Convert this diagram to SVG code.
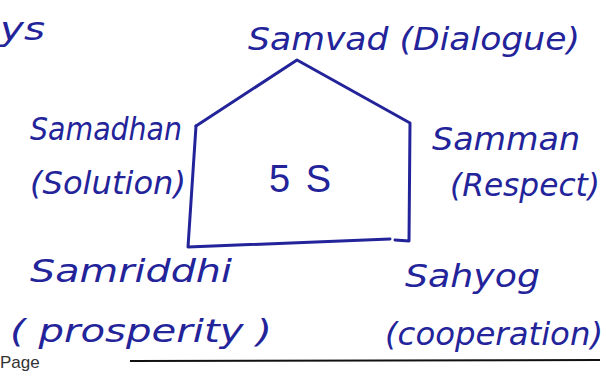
<svg xmlns="http://www.w3.org/2000/svg" width="606" height="376" viewBox="0 0 606 376">
<style>
.h{font-family:"DejaVu Sans","Liberation Sans",sans-serif;font-style:italic;fill:#23239a;font-size:32px}
.ln{fill:none;stroke:#23239a;stroke-width:3;stroke-linejoin:round;stroke-linecap:round}
</style>
<rect width="606" height="376" fill="#ffffff"/>
<g id="connectors">
<path class="ln" d="M196,126 L297,60 L410,123 L409,241 L395,240"/>
<path class="ln" d="M390,239 L188,247 L196,126"/>
<path d="M130,361 L600,360" stroke="#111" stroke-width="2" fill="none"/>
</g>
<g id="hdr"><text class="h" x="0" y="40" textLength="45" lengthAdjust="spacingAndGlyphs">ys</text></g>
<g id="center"><text x="300" y="192" text-anchor="middle" font-family="Liberation Sans,sans-serif" font-size="38" fill="#23239a" textLength="62" lengthAdjust="spacing">5 S</text></g>
<g id="samvad"><text class="h" x="248" y="50" textLength="332" lengthAdjust="spacingAndGlyphs">Samvad (Dialogue)</text></g>
<g id="samadhan">
<text class="h" x="30" y="140" textLength="152" lengthAdjust="spacingAndGlyphs">Samadhan</text>
<text class="h" x="30" y="194" textLength="156" lengthAdjust="spacingAndGlyphs">(Solution)</text>
</g>
<g id="samman">
<text class="h" x="432" y="150" textLength="148" lengthAdjust="spacingAndGlyphs">Samman</text>
<text class="h" x="450" y="196" textLength="150" lengthAdjust="spacingAndGlyphs">(Respect)</text>
</g>
<g id="samriddhi">
<text class="h" x="30" y="282" textLength="202" lengthAdjust="spacingAndGlyphs">Samriddhi</text>
<text class="h" x="10" y="342" textLength="262" lengthAdjust="spacingAndGlyphs">( prosperity )</text>
</g>
<g id="sahyog">
<text class="h" x="405" y="287" textLength="135" lengthAdjust="spacingAndGlyphs">Sahyog</text>
<text class="h" x="385" y="345" textLength="218" lengthAdjust="spacingAndGlyphs">(cooperation)</text>
</g>
<g id="page"><text x="0" y="368" font-family="Liberation Sans,sans-serif" font-size="17" fill="#333">Page</text></g>
</svg>
